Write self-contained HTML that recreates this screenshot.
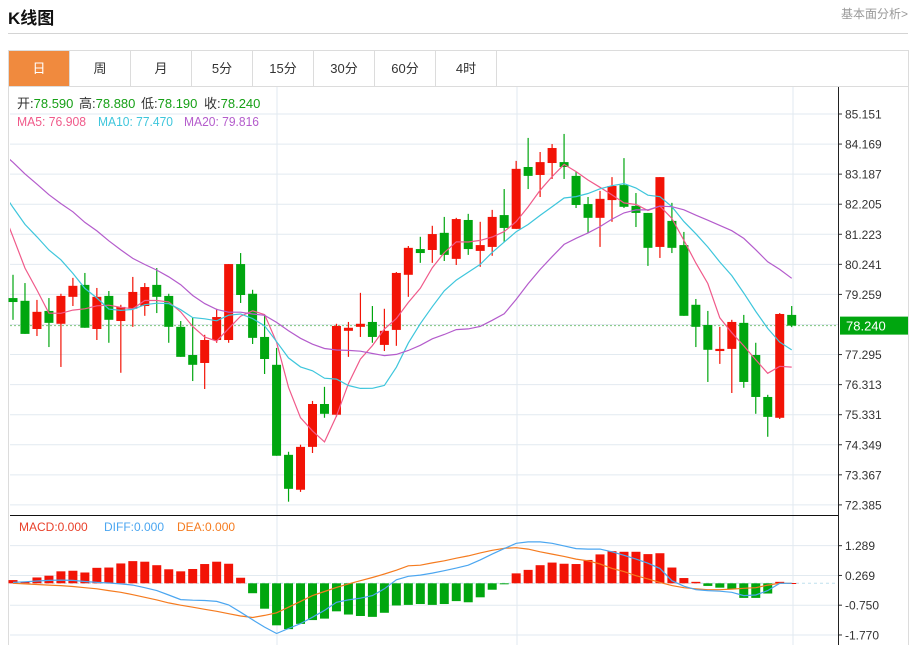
<!DOCTYPE html>
<html><head><meta charset="utf-8">
<style>
body{margin:0;background:#fff;font-family:"Liberation Sans","Noto Sans CJK SC",sans-serif;}
#wrap{position:relative;width:914px;height:645px;overflow:hidden;}
.tab{position:absolute;top:51px;height:35px;width:60px;border-right:1px solid #dcdcdc;font-size:13px;color:#333;text-align:center;line-height:35px;}
</style></head><body>
<div id="wrap">
<div style="position:absolute;left:8px;top:4px;font-size:17px;font-weight:bold;color:#111;">K线图</div>
<div style="position:absolute;right:6px;top:5px;font-size:12px;color:#999;">基本面分析&gt;</div>
<div style="position:absolute;left:8px;top:33px;width:900px;height:1px;background:#d4d4d4;"></div>
<div style="position:absolute;left:8px;top:50px;width:899px;height:600px;border:1px solid #dcdcdc;"></div>
<div style="position:absolute;left:8px;top:86px;width:900px;height:1px;background:#dcdcdc;"></div>
<div class="tab" style="left:9px;background:#f08a3e;color:#fff;">日</div>
<div class="tab" style="left:70px;">周</div>
<div class="tab" style="left:131px;">月</div>
<div class="tab" style="left:192px;">5分</div>
<div class="tab" style="left:253px;">15分</div>
<div class="tab" style="left:314px;">30分</div>
<div class="tab" style="left:375px;">60分</div>
<div class="tab" style="left:436px;">4时</div>
<svg id="chart" width="914" height="645" style="position:absolute;left:0;top:0;" xmlns="http://www.w3.org/2000/svg"></svg>
</div>
<script>
const opens=[79.14,79.05,78.13,78.72,78.30,79.18,79.57,78.13,79.21,78.39,78.79,78.88,79.57,79.21,78.20,77.28,77.02,77.77,77.77,80.25,79.28,77.87,76.96,74.02,72.88,74.28,75.68,75.33,78.07,78.20,78.36,77.61,78.10,79.90,80.74,80.71,81.27,80.42,81.69,80.68,80.81,81.85,81.40,83.42,83.16,83.55,83.58,83.13,82.21,81.76,82.34,82.83,82.15,81.92,80.81,81.66,80.87,78.92,78.26,77.41,77.48,78.33,77.28,75.91,75.23,78.59];
const highs=[79.90,79.63,79.08,79.14,79.28,79.80,79.96,79.47,79.37,78.92,79.83,79.63,80.12,79.28,78.39,78.49,77.94,78.79,80.25,80.61,79.41,78.59,77.51,74.12,74.35,75.78,76.24,78.30,78.36,79.31,78.88,78.79,79.99,80.84,81.14,81.50,81.79,81.76,81.89,81.63,82.02,82.70,83.62,84.37,83.91,84.17,84.50,83.26,82.44,82.64,83.09,83.71,82.57,81.92,83.09,82.25,81.30,79.11,78.72,78.20,78.43,78.59,77.68,75.98,78.65,78.88];
const lows=[78.43,77.97,77.90,77.54,76.89,78.88,78.17,77.77,77.68,76.70,78.20,78.56,78.65,77.68,77.22,76.43,76.17,77.68,77.68,78.98,77.64,76.66,73.99,72.49,72.81,74.08,75.23,75.26,77.22,77.87,77.68,77.41,77.58,79.18,80.29,80.29,80.35,80.22,80.55,80.16,80.52,80.97,81.40,82.70,82.44,83.03,83.03,82.08,81.27,80.81,81.63,82.08,81.46,80.19,80.45,80.61,78.56,77.54,76.40,76.99,76.04,76.21,75.36,74.61,75.19,78.19];
const closes=[79.01,77.97,78.69,78.33,79.21,79.54,78.17,79.18,78.43,78.85,79.34,79.50,79.18,78.20,77.22,76.96,77.77,78.52,80.25,79.24,77.84,77.15,73.99,72.91,74.28,75.68,75.36,78.23,78.17,78.30,77.87,78.07,79.96,80.78,80.61,81.23,80.55,81.72,80.74,80.87,81.79,81.43,83.36,83.13,83.58,84.04,83.42,82.18,81.76,82.38,82.80,82.12,81.92,80.78,83.09,80.78,78.56,78.20,77.45,77.48,78.36,76.40,75.91,75.26,78.62,78.24];
const priorCloses=[85.9,85.6,85.4,85.2,85.0,84.9,85.1,84.7,84.9,84.8,84.9,83.5,82.8,82.6,82.4,84.0,83.07,82.29,82.08,79.25];
const macdHist=[0.11,0.06,0.20,0.26,0.41,0.43,0.37,0.53,0.54,0.68,0.76,0.74,0.62,0.48,0.41,0.49,0.66,0.74,0.67,0.19,-0.34,-0.87,-1.44,-1.57,-1.39,-1.26,-1.21,-0.96,-1.07,-1.12,-1.15,-1.01,-0.76,-0.74,-0.71,-0.74,-0.71,-0.61,-0.65,-0.48,-0.22,-0.02,0.34,0.46,0.62,0.71,0.67,0.66,0.80,0.99,1.10,1.08,1.08,1.00,1.03,0.54,0.18,0.05,-0.09,-0.15,-0.20,-0.50,-0.50,-0.35,0.05,0.01];
const diffVals=[0.03,0.05,0.08,0.10,0.11,0.10,0.06,0.03,0.01,-0.02,-0.06,-0.15,-0.25,-0.40,-0.56,-0.58,-0.59,-0.62,-0.74,-0.99,-1.25,-1.50,-1.72,-1.55,-1.38,-1.16,-0.93,-0.65,-0.57,-0.51,-0.42,-0.19,0.12,0.24,0.28,0.35,0.43,0.52,0.62,0.80,1.00,1.19,1.37,1.42,1.42,1.37,1.28,1.19,1.17,1.17,1.08,0.96,0.83,0.69,0.51,0.09,-0.10,-0.22,-0.25,-0.27,-0.31,-0.42,-0.40,-0.25,0.00,0.00];
const deaVals=[0,-0.02,-0.04,-0.06,-0.08,-0.11,-0.15,-0.19,-0.25,-0.31,-0.39,-0.48,-0.57,-0.67,-0.75,-0.82,-0.89,-0.96,-1.04,-1.12,-1.17,-1.10,-1.01,-0.82,-0.62,-0.42,-0.28,-0.14,-0.02,0.09,0.20,0.32,0.45,0.60,0.62,0.70,0.77,0.86,0.94,1.04,1.13,1.20,1.22,1.17,1.08,1.00,0.92,0.83,0.77,0.66,0.51,0.40,0.26,0.15,0.03,-0.08,-0.15,-0.19,-0.22,-0.22,-0.20,-0.17,-0.15,-0.06,0,0];
const priceTicks=[85.151,84.169,83.187,82.205,81.223,80.241,79.259,78.277,77.295,76.313,75.331,74.349,73.367,72.385];
const macdTicks=[1.289,0.269,-0.750,-1.770];

const NS="http://www.w3.org/2000/svg";
const svg=document.getElementById('chart');
const RED="#f21306",GREEN="#00a60f";
const xOf=i=>13+11.98*i;
const yP=p=>114+(85.151-p)*(390.9/12.766);
const yM=v=>583.3-v*29.19;
function mk(tag,attrs,parent){const e=document.createElementNS(NS,tag);for(const k in attrs)e.setAttribute(k,attrs[k]);(parent||svg).appendChild(e);return e;}

for(const t of priceTicks){
  const y=yP(t);
  const g=mk('line',{x1:10,x2:838,y1:y,y2:y,stroke:'#e2eaf0','stroke-width':1});
  
  
  if(Math.abs(t-78.277)>0.01){
    const tk=mk('line',{x1:838,x2:842,y1:y,y2:y,stroke:'#333'});
    
    
    const tx=mk('text',{x:845,y:y+4.5,'font-size':12,fill:'#333','font-family':'Liberation Sans, sans-serif'});
    tx.textContent=t.toFixed(3);
    
    
  }
}
for(const t of macdTicks){
  const y=yM(t);
  const g=mk('line',{x1:10,x2:838,y1:y,y2:y,stroke:'#e2eaf0'});
  
  
  const tk=mk('line',{x1:838,x2:842,y1:y,y2:y,stroke:'#333'});
  
  
  const tx=mk('text',{x:845,y:y+4.5,'font-size':12,fill:'#333','font-family':'Liberation Sans, sans-serif'});
  tx.textContent=t.toFixed(3);
  
  
}
for(const vx of [277,517,793]){
  const v=mk('line',{x1:vx,x2:vx,y1:87,y2:645,stroke:'#e2eaf0'});
  
  
}
const sep=mk('line',{x1:10,x2:838,y1:515.5,y2:515.5,stroke:'#111'});


const ax=mk('line',{x1:838.5,x2:838.5,y1:87,y2:645,stroke:'#222'});



const lastC=closes[closes.length-1];
const lp=mk('line',{x1:10,x2:838,y1:yP(lastC),y2:yP(lastC),stroke:'#7cc47c','stroke-dasharray':'2,2'});


const lb=mk('rect',{x:840,y:yP(lastC)-9,width:68,height:18,fill:GREEN});


const lt=mk('text',{x:846,y:yP(lastC)+5,'font-size':13,fill:'#fff','font-family':'Liberation Sans, sans-serif'});
lt.textContent=lastC.toFixed(3);


const zl=mk('line',{x1:10,x2:838,y1:yM(0),y2:yM(0),stroke:'#bfe0ee','stroke-dasharray':'3,3'});



for(let i=0;i<closes.length;i++){
  const up=closes[i]>=opens[i];const col=up?RED:GREEN;const x=xOf(i);
  const w=mk('line',{x1:x,x2:x,y1:yP(highs[i]),y2:yP(lows[i]),stroke:col,'stroke-width':1.2});
  
  
  const top=yP(Math.max(opens[i],closes[i])),bot=yP(Math.min(opens[i],closes[i]));
  const b=mk('rect',{x:x-4.5,y:top,width:9,height:Math.max(1.5,bot-top),fill:col});
  
  
}

const all=priorCloses.concat(closes);
function maLine(n,color,name){
  const pts=[];
  for(let i=-1;i<closes.length;i++){
    const k=i+priorCloses.length;let s=0;for(let j=k-n+1;j<=k;j++)s+=all[j];
    pts.push(xOf(i).toFixed(1)+','+yP(s/n).toFixed(1));
  }
  const p=mk('polyline',{points:pts.join(' '),fill:'none',stroke:color,'stroke-width':1.2,'clip-path':'url(#mainclip)'});
  
  
}
const defs=mk('defs',{});
const cp=mk('clipPath',{id:'mainclip'},defs);
mk('rect',{x:10,y:87,width:828,height:428},cp);
maLine(5,'#f05a8a','ma5-line');
maLine(10,'#3ec6dc','ma10-line');
maLine(20,'#b45ccc','ma20-line');

for(let i=0;i<macdHist.length;i++){
  const v=macdHist[i];const y0=yM(0),y1=yM(v);
  const r=mk('rect',{x:xOf(i)-4.5,y:Math.min(y0,y1),width:9,height:Math.max(1,Math.abs(y1-y0)),fill:v>=0?RED:GREEN});
  
  
}
function mline(arr,color,name){
  const pts=arr.map((v,i)=>xOf(i).toFixed(1)+','+yM(v).toFixed(1));
  const p=mk('polyline',{points:pts.join(' '),fill:'none',stroke:color,'stroke-width':1.2});
  
  
}
mline(deaVals,'#f57b1f','dea-line');
mline(diffVals,'#4ba6f0','diff-line');

function txt(x,y,s,color,name,size,len){
  const t=mk('text',{x:x,y:y,'font-size':size||13,fill:color,'font-family':'Liberation Sans, Noto Sans CJK SC, sans-serif'});
  if(len){t.setAttribute('textLength',len);t.setAttribute('lengthAdjust','spacingAndGlyphs');}
  t.textContent=s;
  
  
  return t;
}
const ohlcLab=['开:','高:','低:','收:'];
const last=closes.length-1;
const ohlcVal=[opens[last],highs[last],lows[last],closes[last]];
const ohlcX=[17,79,141,204];
for(let k=0;k<4;k++){
  const t=txt(ohlcX[k],108,'','#333','ohlc-legend-'+k);
  const a=document.createElementNS(NS,'tspan');a.textContent=ohlcLab[k];t.appendChild(a);
  const b=document.createElementNS(NS,'tspan');b.setAttribute('fill','#16a016');b.textContent=ohlcVal[k].toFixed(3);t.appendChild(b);
}
txt(17,126,'MA5: 76.908','#f05a8a','ma5-legend',13,69);
txt(98,126,'MA10: 77.470','#3ec6dc','ma10-legend',13,75);
txt(184,126,'MA20: 79.816','#b45ccc','ma20-legend',13,75);
txt(19,531,'MACD:0.000','#e8402a','macd-legend',12);
txt(104,531,'DIFF:0.000','#4ba6f0','diff-legend',12);
txt(177,531,'DEA:0.000','#f57b1f','dea-legend',12);
</script>
</body></html>
